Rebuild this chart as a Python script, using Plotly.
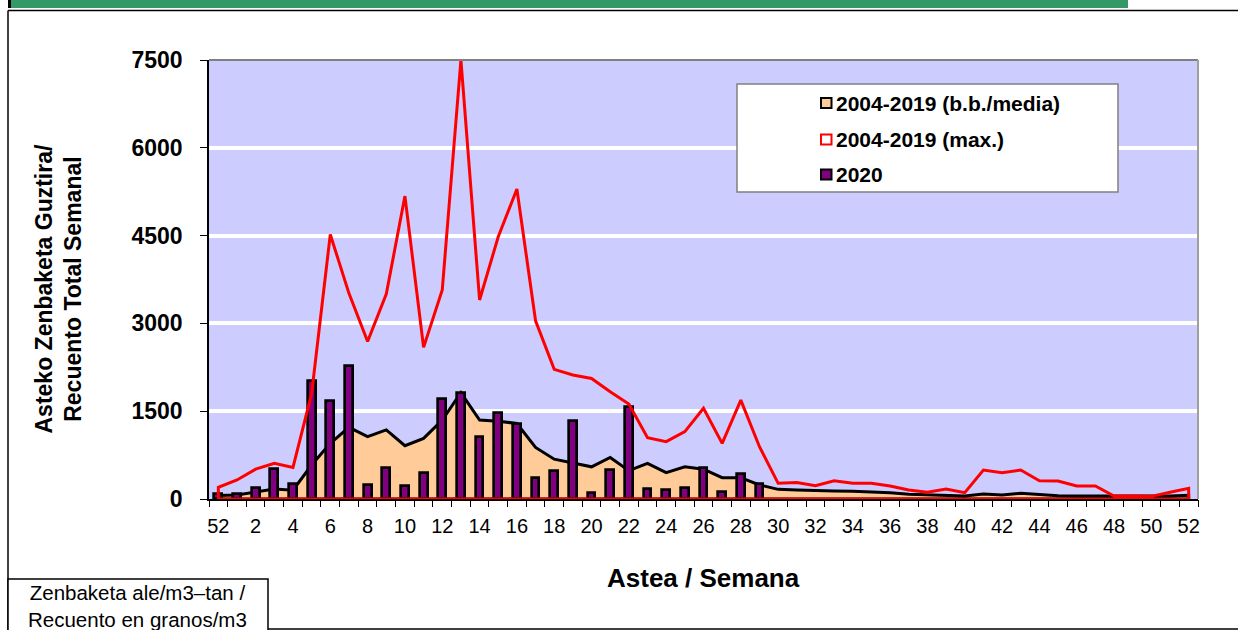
import plotly.graph_objects as go

# ---------------- data ----------------
weeks = [52] + list(range(1, 53))          # category labels (53 weeks shown)
mean_2004_2019 = [60, 70, 120, 170, 150, 580, 950, 1225, 1065, 1180,
                  910, 1035, 1350, 1815, 1350, 1330, 1290, 880, 680, 620,
                  550, 710, 485, 610, 450, 550, 510, 365, 365, 240,
                  165, 154, 142, 137, 131, 125, 108, 80, 74, 63,
                  51, 85, 68, 97, 74, 57, 51, 51, 40, 40,
                  40, 51, 63]
max_2004_2019 = [200, 325, 510, 610, 540, 1800, 4520, 3513, 2690, 3500,
                 5175, 2590, 3570, 7500, 3400, 4480, 5295, 3045, 2215, 2118,
                 2060, 1833, 1622, 1048, 980, 1150, 1550, 950, 1690, 893,
                 268, 280, 228, 313, 268, 268, 222, 154, 114, 171,
                 108, 495, 450, 495, 313, 307, 222, 222, 51, 51,
                 45, 114, 182]
y2020 = [90, 90, 190, 510, 260, 2015, 1675, 2270, 240, 530,
         225, 445, 1710, 1810, 1060, 1470, 1280, 360, 480, 1330,
         100, 500, 1570, 170, 155, 190, 530, 120, 430, 250]
y_ticks = [0, 1500, 3000, 4500, 6000, 7500]
series_names = ["2004-2019 (b.b./media)", "2004-2019 (max.)", "2020"]

# ---------------- geometry helpers ----------------
W, H = 1238, 630
L, R, T, B = 209, 1198, 60, 499
def px(x):
    return (x - L) / (R - L)
def py(y):
    return (B - y) / (B - T)

idx = list(range(len(weeks)))
n = len(weeks)
xr = [-0.5, n - 0.5]
yr = [0, 7500]

# closed area outlines (Excel style area series)
area_x = [idx[0]] + idx + [idx[-1], idx[0]]
mean_y = [0] + mean_2004_2019 + [0, 0]
max_y = [0] + max_2004_2019 + [0, 0]

fig = go.Figure()
fig.add_trace(go.Scatter(
    x=area_x, y=mean_y, mode="lines", fill="toself",
    fillcolor="#FFCC99", line=dict(color="black", width=3),
    name=series_names[0], showlegend=False, hoverinfo="skip"))
fig.add_trace(go.Bar(
    x=idx[:len(y2020)], y=y2020, width=0.42,
    marker=dict(color="#800080", line=dict(color="black", width=2.7)),
    name=series_names[2], showlegend=False, xaxis="x2", yaxis="y2"))
fig.add_trace(go.Scatter(
    x=area_x, y=max_y, mode="lines",
    line=dict(color="#FF0000", width=3),
    name=series_names[1], showlegend=False, hoverinfo="skip",
    xaxis="x2", yaxis="y2"))

FONT = "Liberation Sans, Arial, sans-serif"

fig.update_layout(
    width=W, height=H,
    margin=dict(l=L, r=W - R, t=T, b=H - B),
    paper_bgcolor="white", plot_bgcolor="#CCCCFF",
    showlegend=False, bargap=0,
    font=dict(family=FONT, color="black"),
    xaxis=dict(
        range=xr,
        tickmode="array", tickvals=idx[::2], ticktext=[str(w) for w in weeks[::2]],
        ticks="", tickfont=dict(size=20, family=FONT, color="black"),
        ticklabelstandoff=8,
        showgrid=False, zeroline=False,
        showline=True, linecolor="black", linewidth=1.5,
    ),
    yaxis=dict(
        range=yr, tickmode="array", tickvals=y_ticks,
        ticks="outside", ticklen=7, tickcolor="black", tickwidth=1,
        tickfont=dict(size=23, family=FONT, color="black", weight="bold"),
        ticklabelstandoff=13,
        showgrid=True, gridcolor="white", gridwidth=4,
        zeroline=False, showline=True, linecolor="black", linewidth=1.5,
    ),
    # overlay axis: carries the bars/max line and the between-category tick marks
    xaxis2=dict(range=xr, overlaying="x", side="bottom", showticklabels=False,
                tickmode="linear", tick0=-0.5, dtick=1, ticks="outside", ticklen=7,
                tickcolor="black", tickwidth=1, showgrid=False, zeroline=False,
                showline=False),
    yaxis2=dict(range=yr, overlaying="y", visible=False, showgrid=False, zeroline=False),
)

shapes = []
# plot frame top/right (gray)
shapes.append(dict(type="line", xref="paper", yref="paper", x0=0, x1=1, y0=1, y1=1,
                   line=dict(color="#808080", width=2)))
shapes.append(dict(type="line", xref="paper", yref="paper", x0=1, x1=1, y0=0, y1=1,
                   line=dict(color="#A0A0A0", width=2)))
# header band and frame lines
shapes.append(dict(type="rect", xref="paper", yref="paper", x0=px(8), x1=px(1128),
                   y0=py(0), y1=py(8), fillcolor="#339966", line=dict(width=0), layer="above"))
shapes.append(dict(type="rect", xref="paper", yref="paper", x0=px(8), x1=px(11),
                   y0=py(0), y1=py(8), fillcolor="black", line=dict(width=0), layer="above"))
shapes.append(dict(type="line", xref="paper", yref="paper", x0=px(8), x1=px(1240),
                   y0=py(10.5), y1=py(10.5), line=dict(color="black", width=1.5)))
shapes.append(dict(type="line", xref="paper", yref="paper", x0=px(8), x1=px(8),
                   y0=py(10.5), y1=py(632), line=dict(color="black", width=1.5)))
shapes.append(dict(type="line", xref="paper", yref="paper", x0=px(268), x1=px(1240),
                   y0=py(629), y1=py(629), line=dict(color="black", width=1.5)))
# bottom-left unit box
shapes.append(dict(type="rect", xref="paper", yref="paper", x0=px(8), x1=px(268),
                   y0=py(579), y1=py(632), fillcolor="white",
                   line=dict(color="black", width=1.5)))
# legend box
shapes.append(dict(type="rect", xref="paper", yref="paper", x0=px(737), x1=px(1118),
                   y0=py(84), y1=py(192), fillcolor="white",
                   line=dict(color="#808080", width=1.5), layer="above"))
legend_style = [("#FFCC99", "black"), ("white", "#FF0000"), ("#800080", "black")]
legend_rows = [103, 139.5, 174.5]
annotations = []
for name, (fc, lc), yc in zip(series_names, legend_style, legend_rows):
    shapes.append(dict(type="rect", xref="paper", yref="paper",
                       x0=px(821), x1=px(831.5), y0=py(yc - 5), y1=py(yc + 5),
                       fillcolor=fc, line=dict(color=lc, width=2), layer="above"))
    annotations.append(dict(xref="paper", yref="paper", x=px(834), y=py(yc),
                            xanchor="left", yanchor="middle", showarrow=False,
                            text=name, font=dict(size=21, family=FONT, color="black",
                                                 weight="bold")))

annotations.append(dict(xref="paper", yref="paper", x=px(703.5), y=py(578),
                        xanchor="center", yanchor="middle", showarrow=False,
                        text="Astea / Semana",
                        font=dict(size=26, family=FONT, color="black", weight="bold")))
annotations.append(dict(xref="paper", yref="paper", x=px(58.5), y=py(289),
                        xanchor="center", yanchor="middle", showarrow=False,
                        textangle=-90,
                        text="Asteko Zenbaketa Guztira/<br>Recuento Total Semanal",
                        font=dict(size=23, family=FONT, color="black", weight="bold")))
annotations.append(dict(xref="paper", yref="paper", x=px(137), y=py(606),
                        xanchor="center", yanchor="middle", showarrow=False,
                        text="Zenbaketa ale/m3–tan /<br>Recuento en granos/m3",
                        font=dict(size=20.5, family=FONT, color="black")))

fig.update_layout(shapes=shapes, annotations=annotations)
fig.write_html("out.html", config={"displayModeBar": False},
               post_script="document.body.style.margin='0';document.body.style.overflow='hidden';")
